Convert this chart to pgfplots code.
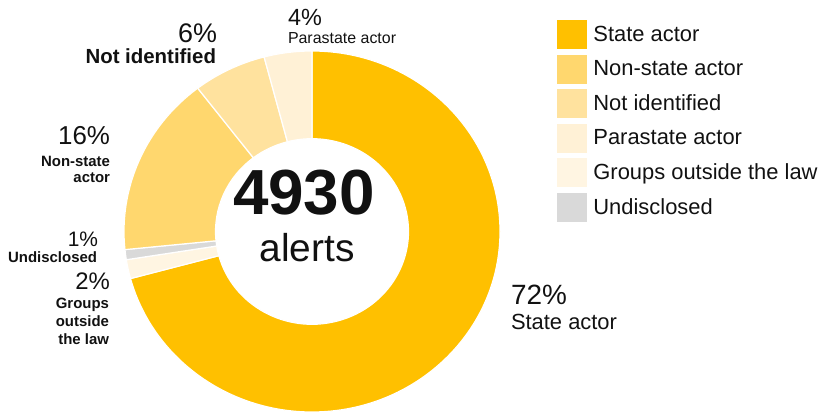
\documentclass[border=0pt]{standalone}
\usepackage{fontspec}
\setmainfont{Liberation Sans}
\usepackage{pgfplots}
\pgfplotsset{compat=1.18}

\definecolor{stateC}{RGB}{255,192,0}
\definecolor{nonstateC}{RGB}{255,215,110}
\definecolor{notidC}{RGB}{255,226,158}
\definecolor{paraC}{RGB}{255,241,214}
\definecolor{groupsC}{RGB}{255,245,226}
\definecolor{undiscC}{RGB}{217,217,217}
\definecolor{txt}{RGB}{17,17,17}

% meta of a slice: from/to (cumulative percent, clockwise from 12 o'clock)/colour
\def\parseslice#1/#2/#3\relax{\def\slicefrom{#1}\def\sliceto{#2}\def\slicecol{#3}}

% one ring sector per data point (outer / inner radii in bp)
\pgfdeclareplotmark{donutslice}{%
  \pgfmathsetmacro\ta{90-3.6*\slicefrom}%
  \pgfmathsetmacro\tb{90-3.6*\sliceto}%
  \path[fill=\slicecol, draw=white, line width=1.2bp]
    (\ta:188bp and 180.5bp)
    arc[start angle=\ta, end angle=\tb, x radius=188bp, y radius=180.5bp]
    -- (\tb:96.5bp and 92.8bp)
    arc[start angle=\tb, end angle=\ta, x radius=96.5bp, y radius=92.8bp]
    -- cycle;%
}

\newcommand{\fs}[1]{\fontsize{#1}{#1}\selectfont}

\begin{document}
\begin{tikzpicture}[lab/.style={inner sep=0pt, outer sep=0pt, text=txt}]
\begin{axis}[
    scale only axis,
    width=819bp, height=414bp,
    xmin=0, xmax=819, ymin=0, ymax=414,
    hide axis,
    clip=false,
    legend style={at={(0.6801,0.9517)}, anchor=north west, draw=none,
        fill=none, inner sep=0pt, outer sep=0pt, row sep=6.2bp,
        column sep=7bp, font=\fs{22}, text=txt,
        nodes={inner sep=0pt}},
    legend cell align=left,
]
% State 70.8, Groups 1.7, Undisclosed 0.9, Non-state 16.2, Not identified 6.3, Parastate 4.1
\addplot[scatter, only marks, mark=donutslice,
    point meta=explicit symbolic,
    scatter/@pre marker code/.code={%
        \expandafter\parseslice\pgfplotspointmeta\relax},
    scatter/@post marker code/.code={},
    forget plot]
    coordinates {
    (312,182.5) [0/70.8/stateC]
    (312,182.5) [70.8/72.5/groupsC]
    (312,182.5) [72.5/73.4/undiscC]
    (312,182.5) [73.4/89.6/nonstateC]
    (312,182.5) [89.6/95.9/notidC]
    (312,182.5) [95.9/100/paraC]
    };

\addlegendimage{legend image code/.code={\fill[stateC] (0bp,-14bp) rectangle (29bp,14bp);}}
\addlegendentry{State actor}
\addlegendimage{legend image code/.code={\fill[nonstateC] (0bp,-14bp) rectangle (29bp,14bp);}}
\addlegendentry{Non-state actor}
\addlegendimage{legend image code/.code={\fill[notidC] (0bp,-14bp) rectangle (29bp,14bp);}}
\addlegendentry{Not identified}
\addlegendimage{legend image code/.code={\fill[paraC] (0bp,-14bp) rectangle (29bp,14bp);}}
\addlegendentry{Parastate actor}
\addlegendimage{legend image code/.code={\fill[groupsC] (0bp,-14bp) rectangle (29bp,14bp);}}
\addlegendentry{Groups outside the law}
\addlegendimage{legend image code/.code={\fill[undiscC] (0bp,-14bp) rectangle (29bp,14bp);}}
\addlegendentry{Undisclosed}

% centre text
\node[lab, anchor=base, font=\fs{64}\bfseries] at (axis cs:304,199) {4930};
\node[lab, anchor=base, font=\fs{39}] at (axis cs:307,152) {alerts};

% slice labels
\node[lab, anchor=base west, font=\fs{28}] at (axis cs:511,109) {72\%};
\node[lab, anchor=base west, font=\fs{22}] at (axis cs:511,84) {State actor};

\node[lab, anchor=base east, font=\fs{27}] at (axis cs:217,371) {6\%};
\node[lab, anchor=base east, font=\fs{20.5}\bfseries] at (axis cs:216,350) {Not identified};

\node[lab, anchor=base west, font=\fs{23.5}] at (axis cs:288,388) {4\%};
\node[lab, anchor=base west, font=\fs{16}] at (axis cs:288,370) {Parastate actor};

\node[lab, anchor=base east, font=\fs{26}] at (axis cs:110,269) {16\%};
\node[lab, anchor=base east, font=\fs{15}\bfseries] at (axis cs:110,247) {Non-state};
\node[lab, anchor=base east, font=\fs{15}\bfseries] at (axis cs:110,231) {actor};

\node[lab, anchor=base east, font=\fs{21}] at (axis cs:98,167) {1\%};
\node[lab, anchor=base east, font=\fs{15}\bfseries] at (axis cs:97,151) {Undisclosed};

\node[lab, anchor=base east, font=\fs{24}] at (axis cs:110,124) {2\%};
\node[lab, anchor=base east, font=\fs{15}\bfseries] at (axis cs:109,105) {Groups};
\node[lab, anchor=base east, font=\fs{15}\bfseries] at (axis cs:109,87) {outside};
\node[lab, anchor=base east, font=\fs{15}\bfseries] at (axis cs:109,69) {the law};

\coordinate (SW) at (rel axis cs:0,0);
\coordinate (NE) at (rel axis cs:1,1);
\end{axis}
\pgfresetboundingbox
\path (SW) rectangle (NE);
\end{tikzpicture}
\end{document}
